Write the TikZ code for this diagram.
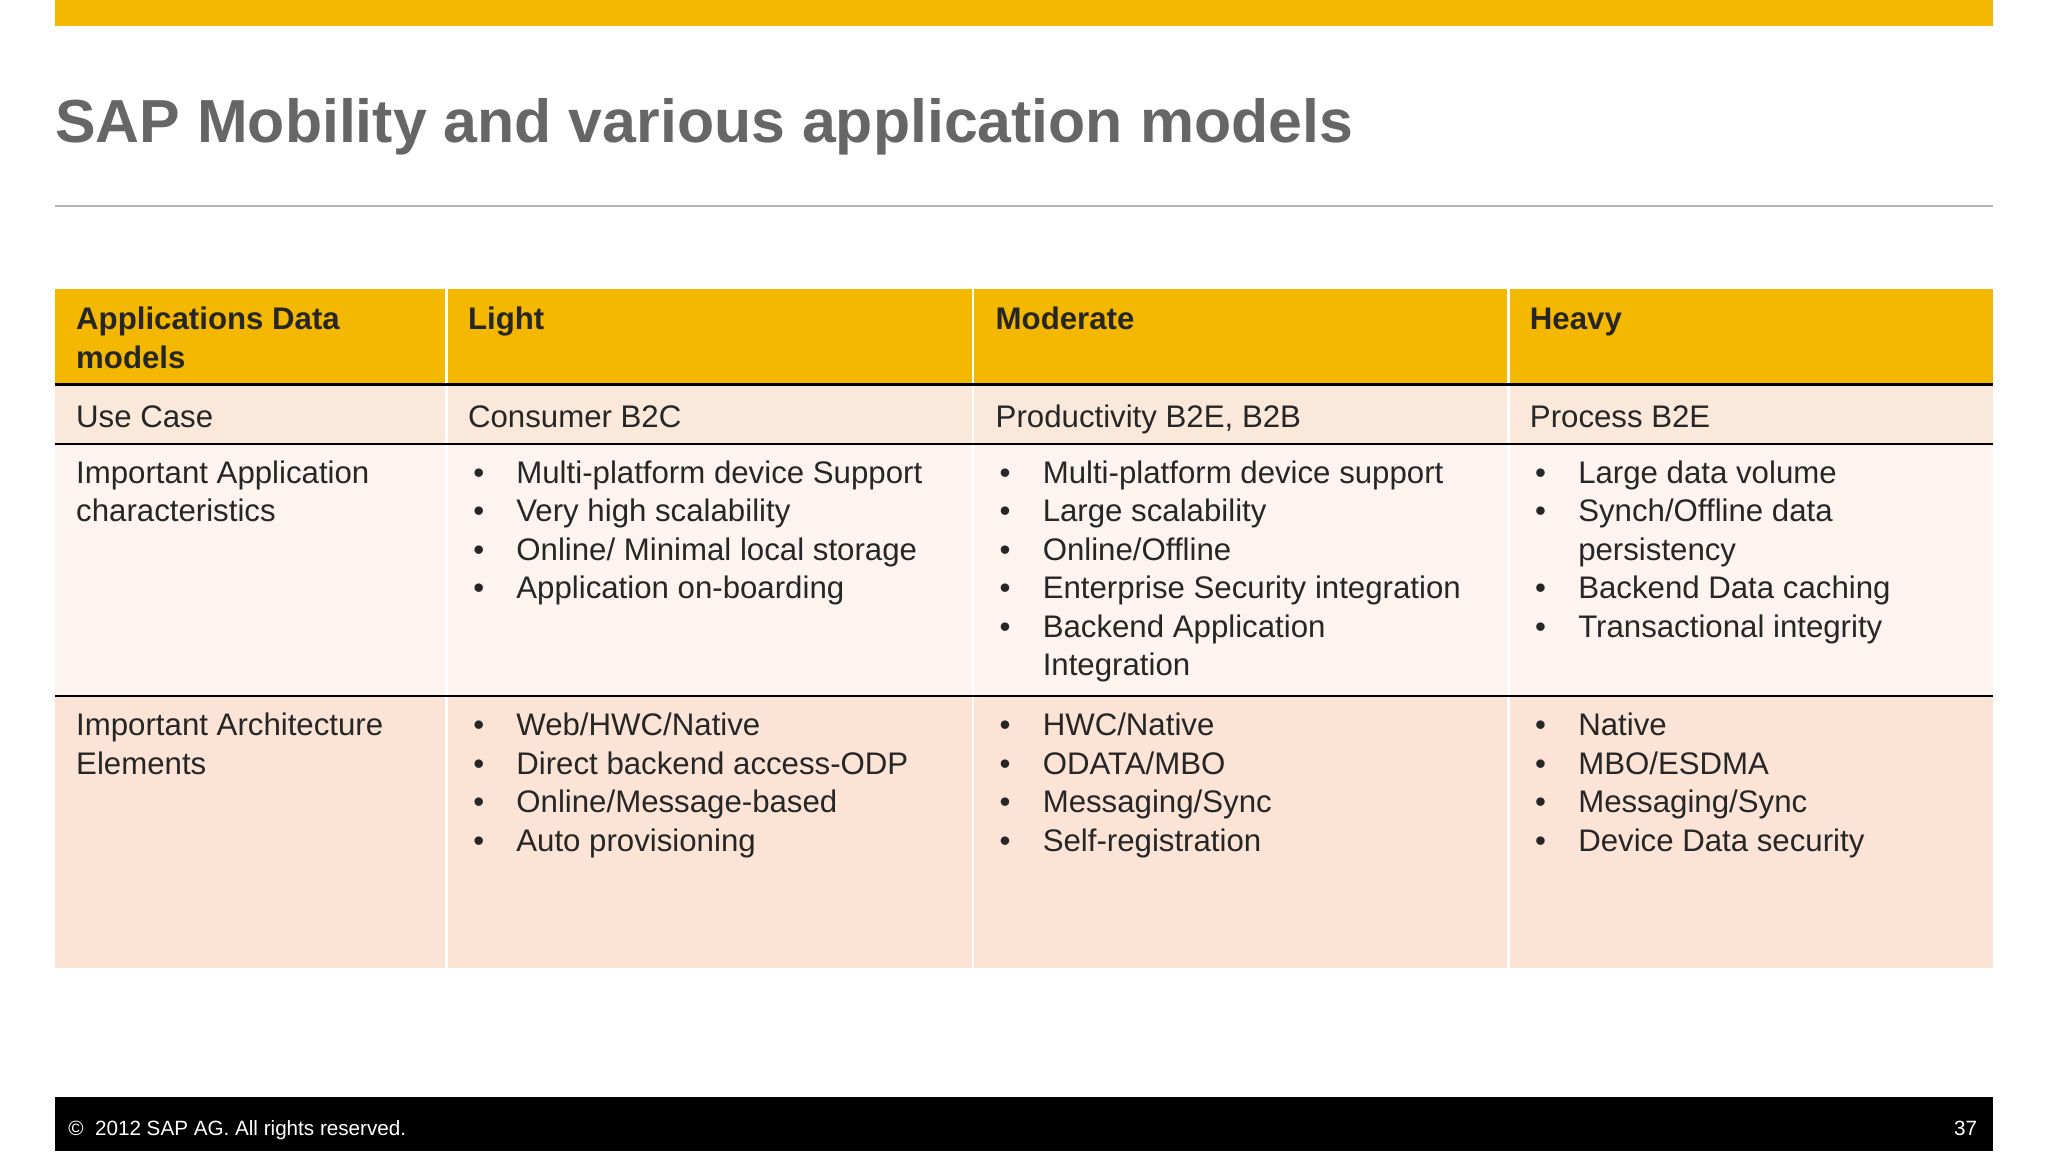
\documentclass[tikz,border=0pt]{standalone}
\usepackage{fontspec}
\setmainfont{Liberation Sans}
\definecolor{sapgold}{RGB}{245,184,0}
\definecolor{titlegray}{RGB}{102,102,102}
\definecolor{rowa}{RGB}{250,232,218}
\definecolor{rowb}{RGB}{253,244,240}
\definecolor{rowc}{RGB}{251,228,214}
\newcommand\bli[3]{\node[txt] at (#1+4,#2) {\textbullet}; \node[txt] at (#1+37,#2) {#3};}
\newcommand\blc[3]{\node[txt] at (#1+37,#2) {#3};}
\begin{document}
\begin{tikzpicture}[x=0.02cm,y=-0.02cm,
  txt/.style={anchor=base west,inner sep=0pt,font=\fontsize{13.6pt}{16pt}\selectfont,text=black!85},
  hdr/.style={txt,font=\fontsize{13.6pt}{16pt}\selectfont\bfseries},
  sep/.style={white,line width=1.2pt}]
\useasboundingbox (0,0) rectangle (1568,882);
\fill[white] (0,0) rectangle (1568,882);
\fill[sapgold] (42,0) rectangle (1526,20);
\node[anchor=base west,inner sep=0pt,font=\fontsize{26.5pt}{30pt}\selectfont\bfseries,text=titlegray] (title) at (42,109) {SAP Mobility and various application models};
\draw[black!30,line width=0.8pt] (42,158) -- (1526,158);
% table
\fill[sapgold] (42,221) rectangle (1526,294);
\fill[rowa] (42,294) rectangle (1526,340);
\fill[rowb] (42,340) rectangle (1526,533);
\fill[rowc] (42,533) rectangle (1526,741);
\foreach \x in {342,745,1155} \draw[sep] (\x,221) -- (\x,741);
\draw[black,line width=1.6pt] (42,294.5) -- (1526,294.5);
\draw[black,line width=0.7pt] (42,340) -- (1526,340);
\draw[black,line width=0.7pt] (42,533) -- (1526,533);
% header
\node[hdr] (h1) at (58,252) {Applications Data};
\node[hdr] (h1b) at (58,282) {models};
\node[hdr] (h2) at (358,252) {Light};
\node[hdr] (h3) at (762,252) {Moderate};
\node[hdr] (h4) at (1171,252) {Heavy};
% use case
\node[txt] (u1) at (58,327) {Use Case};
\node[txt] (u2) at (358,327) {Consumer B2C};
\node[txt] (u3) at (762,327) {Productivity B2E, B2B};
\node[txt] (u4) at (1171,327) {Process B2E};
% row 2
\node[txt] (c1) at (58,370) {Important Application};
\node[txt] (c1b) at (58,399) {characteristics};
\bli{358}{370}{Multi-platform device Support}
\bli{358}{399}{Very high scalability}
\bli{358}{429}{Online/ Minimal local storage}
\bli{358}{458}{Application on-boarding}
\bli{761}{370}{Multi-platform device support}
\bli{761}{399}{Large scalability}
\bli{761}{429}{Online/Offline}
\bli{761}{458}{Enterprise Security integration}
\bli{761}{488}{Backend Application}
\blc{761}{517}{Integration}
\bli{1171}{370}{Large data volume}
\bli{1171}{399}{Synch/Offline data}
\blc{1171}{429}{persistency}
\bli{1171}{458}{Backend Data caching}
\bli{1171}{488}{Transactional integrity}
% row 3
\node[txt] (a1) at (58,563) {Important Architecture};
\node[txt] (a1b) at (58,593) {Elements};
\bli{358}{563}{Web/HWC/Native}
\bli{358}{593}{Direct backend access-ODP}
\bli{358}{622}{Online/Message-based}
\bli{358}{652}{Auto provisioning}
\bli{761}{563}{HWC/Native}
\bli{761}{593}{ODATA/MBO}
\bli{761}{622}{Messaging/Sync}
\bli{761}{652}{Self-registration}
\bli{1171}{563}{Native}
\bli{1171}{593}{MBO/ESDMA}
\bli{1171}{622}{Messaging/Sync}
\bli{1171}{652}{Device Data security}
% footer
\fill[black] (42,840) rectangle (1526,881);
\node[anchor=base west,inner sep=0pt,text=white,font=\fontsize{9pt}{11pt}\selectfont] (copy) at (52,869) {\textcopyright\ \ 2012 SAP AG. All rights reserved.};
\node[anchor=base east,inner sep=0pt,text=white,font=\fontsize{9pt}{11pt}\selectfont] (pg) at (1514,869) {37};
\end{tikzpicture}
\end{document}
